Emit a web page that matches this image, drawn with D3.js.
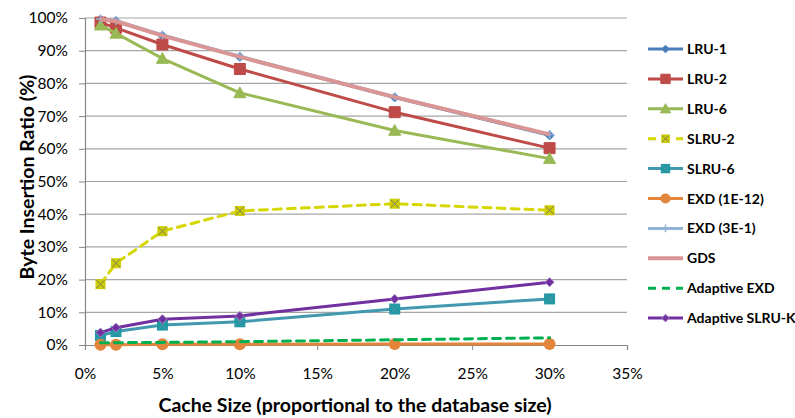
<!DOCTYPE html>
<html><head><meta charset="utf-8">
<script src="https://cdn.jsdelivr.net/npm/d3@7"></script>
<style>body{margin:0;background:#fff}svg{display:block}</style>
</head><body>
<svg id="c" width="795" height="418"></svg>
<script>
const cacheSizes = [1, 2, 5, 10, 20, 30];
const lru1 = [99.5, 99, 94.6, 88.1, 75.7, 64.1];
const lru2 = [98.6, 97, 91.9, 84.4, 71.2, 60.2];
const lru6 = [97.8, 95.3, 87.6, 77.1, 65.6, 57.0];
const slru2 = [18.6, 25.0, 34.8, 41.0, 43.2, 41.2];
const slru6 = [2.9, 4.1, 6.1, 7.1, 11.0, 14.1];
const exd1e12 = [0.1, 0.1, 0.2, 0.2, 0.3, 0.3];
const exd3e1 = [99.7, 99.2, 94.8, 88.3, 75.9, 64.4];
const gds = [99.6, 99.0, 94.6, 88.1, 75.8, 64.4];
const adaptiveExd = [0.7, 0.7, 0.8, 1.0, 1.6, 2.2];
const adaptiveSlruK = [3.8, 5.3, 7.9, 8.9, 14.1, 19.2];
const xTicks = [0, 5, 10, 15, 20, 25, 30, 35];
const yTicks = [0, 10, 20, 30, 40, 50, 60, 70, 80, 90, 100];

const series = [
  {name: "LRU-1", values: lru1, color: "#4A7EBB", width: 3, marker: "diamond", mfill: "#4A7EBB", msize: 9},
  {name: "LRU-2", values: lru2, color: "#BE4B48", width: 3, marker: "square", mfill: "#BE4B48", msize: 11},
  {name: "LRU-6", values: lru6, color: "#98B954", width: 3, marker: "triangle", mfill: "#98B954", msize: 12},
  {name: "SLRU-2", values: slru2, color: "#D6D600", width: 3, dash: "8,6", marker: "xsquare", mfill: "#CCCC00", mstroke: "#7F7F5F", msize: 10},
  {name: "SLRU-6", values: slru6, color: "#4198AF", width: 3, marker: "xsquare", mfill: "#1E9AA3", mstroke: "#5A8FA8", msize: 11},
  {name: "EXD (1E-12)", values: exd1e12, color: "#E3863B", width: 3, marker: "circle", mfill: "#E3863B", msize: 12},
  {name: "EXD (3E-1)", values: exd3e1, color: "#95B3D7", width: 3, marker: "plus", mfill: "#95B3D7", msize: 9},
  {name: "GDS", values: gds, color: "#D99694", width: 4, marker: null},
  {name: "Adaptive EXD", values: adaptiveExd, color: "#00B050", width: 3, dash: "8,6", marker: null},
  {name: "Adaptive SLRU-K", values: adaptiveSlruK, color: "#7030A0", width: 3, marker: "diamond", mfill: "#7030A0", mstroke: "#A07BC0", msize: 9}
];

const svg = d3.select("#c");
const pLeft = 85, pRight = 627, pTop = 18, pBottom = 345;
const x = d3.scaleLinear().domain([0, 35]).range([pLeft, pRight]);
const y = d3.scaleLinear().domain([0, 100]).range([pBottom, pTop]);
const font = "Lato, 'Open Sans', sans-serif";

// gridlines
svg.append("g").selectAll("line").data(yTicks.filter(d => d > 0)).join("line")
  .attr("x1", pLeft).attr("x2", pRight).attr("y1", d => y(d)).attr("y2", d => y(d))
  .attr("stroke", "#A6A6A6").attr("stroke-width", 1.2);

// axes
const yAxis = d3.axisLeft(y).tickValues(yTicks).tickFormat(d => d + "%").tickSize(6).tickPadding(11);
const gy = svg.append("g").attr("transform", `translate(${pLeft},0)`).call(yAxis);
const xAxis = d3.axisBottom(x).tickValues(xTicks).tickFormat(d => d + "%").tickSize(5).tickPadding(18);
const gx = svg.append("g").attr("transform", `translate(0,${pBottom})`).call(xAxis);
[gy, gx].forEach(g => {
  g.select(".domain").attr("stroke", "#868686").attr("stroke-width", 1.2);
  g.selectAll(".tick line").attr("stroke", "#868686");
  g.selectAll("text").attr("font-family", font).attr("font-size", 15.5).attr("fill", "#000");
});

// lines
const line = d3.line().x((d, i) => x(cacheSizes[i])).y(d => y(d));
function markerPath(type, s) {
  const h = s / 2;
  if (type === "diamond") return `M0,${-h}L${h},0L0,${h}L${-h},0Z`;
  if (type === "square" || type === "xsquare") return `M${-h},${-h}H${h}V${h}H${-h}Z`;
  if (type === "triangle") return `M0,${-h}L${h},${h*0.8}L${-h},${h*0.8}Z`;
  return null;
}
function drawMarker(g, type, s, fill, stroke) {
  if (type === "circle") {
    g.append("circle").attr("r", s / 2).attr("fill", fill);
  } else if (type === "plus") {
    g.append("path").attr("d", `M${-s/2},0H${s/2}M0,${-s/2}V${s/2}`).attr("stroke", fill).attr("stroke-width", 1.5);
  } else {
    g.append("path").attr("d", markerPath(type, s)).attr("fill", fill)
      .attr("stroke", stroke || fill).attr("stroke-width", type === "xsquare" ? 0 : 1);
    if (type === "xsquare") {
      const h = s / 2 - 1;
      g.append("path").attr("d", `M${-h},${-h}L${h},${h}M${h},${-h}L${-h},${h}`)
        .attr("stroke", stroke).attr("stroke-width", 1);
    }
  }
}

series.forEach(s => {
  const g = svg.append("g");
  g.append("path").datum(s.values).attr("d", line).attr("fill", "none")
    .attr("stroke", s.color).attr("stroke-width", s.width)
    .attr("stroke-dasharray", s.dash || null).attr("stroke-linejoin", "round")
    .attr("stroke-linecap", s.dash ? "round" : "butt");
  if (s.marker) {
    s.values.forEach((v, i) => {
      const m = g.append("g").attr("transform", `translate(${x(cacheSizes[i])},${y(v)})`);
      drawMarker(m, s.marker, s.msize, s.mfill, s.mstroke);
    });
  }
});

// legend
const lg = svg.append("g");
series.forEach((s, i) => {
  const yy = 49 + i * 29.9;
  const row = lg.append("g").attr("transform", `translate(0,${yy})`);
  row.append("line").attr("x1", 648).attr("x2", 683).attr("y1", 0).attr("y2", 0)
    .attr("stroke", s.color).attr("stroke-width", s.width)
    .attr("stroke-dasharray", s.dash || null);
  if (s.marker) {
    const m = row.append("g").attr("transform", "translate(665.5,0)");
    drawMarker(m, s.marker, s.msize * 0.85, s.mfill, s.mstroke);
  }
  row.append("text").attr("x", 687).attr("y", 0).attr("dy", "0.36em")
    .attr("font-family", font).attr("font-weight", "bold").attr("font-size", 14)
    .text(s.name);
});

// axis titles
svg.append("text").attr("x", 355).attr("y", 412).attr("text-anchor", "middle")
  .attr("font-family", font).attr("font-weight", "bold").attr("font-size", 19.5)
  .text("Cache Size (proportional to the database size)");
svg.append("text").attr("transform", "translate(34,177) rotate(-90)").attr("text-anchor", "middle")
  .attr("font-family", font).attr("font-weight", "bold").attr("font-size", 19.5)
  .text("Byte Insertion Ratio (%)");
</script>
</body></html>
